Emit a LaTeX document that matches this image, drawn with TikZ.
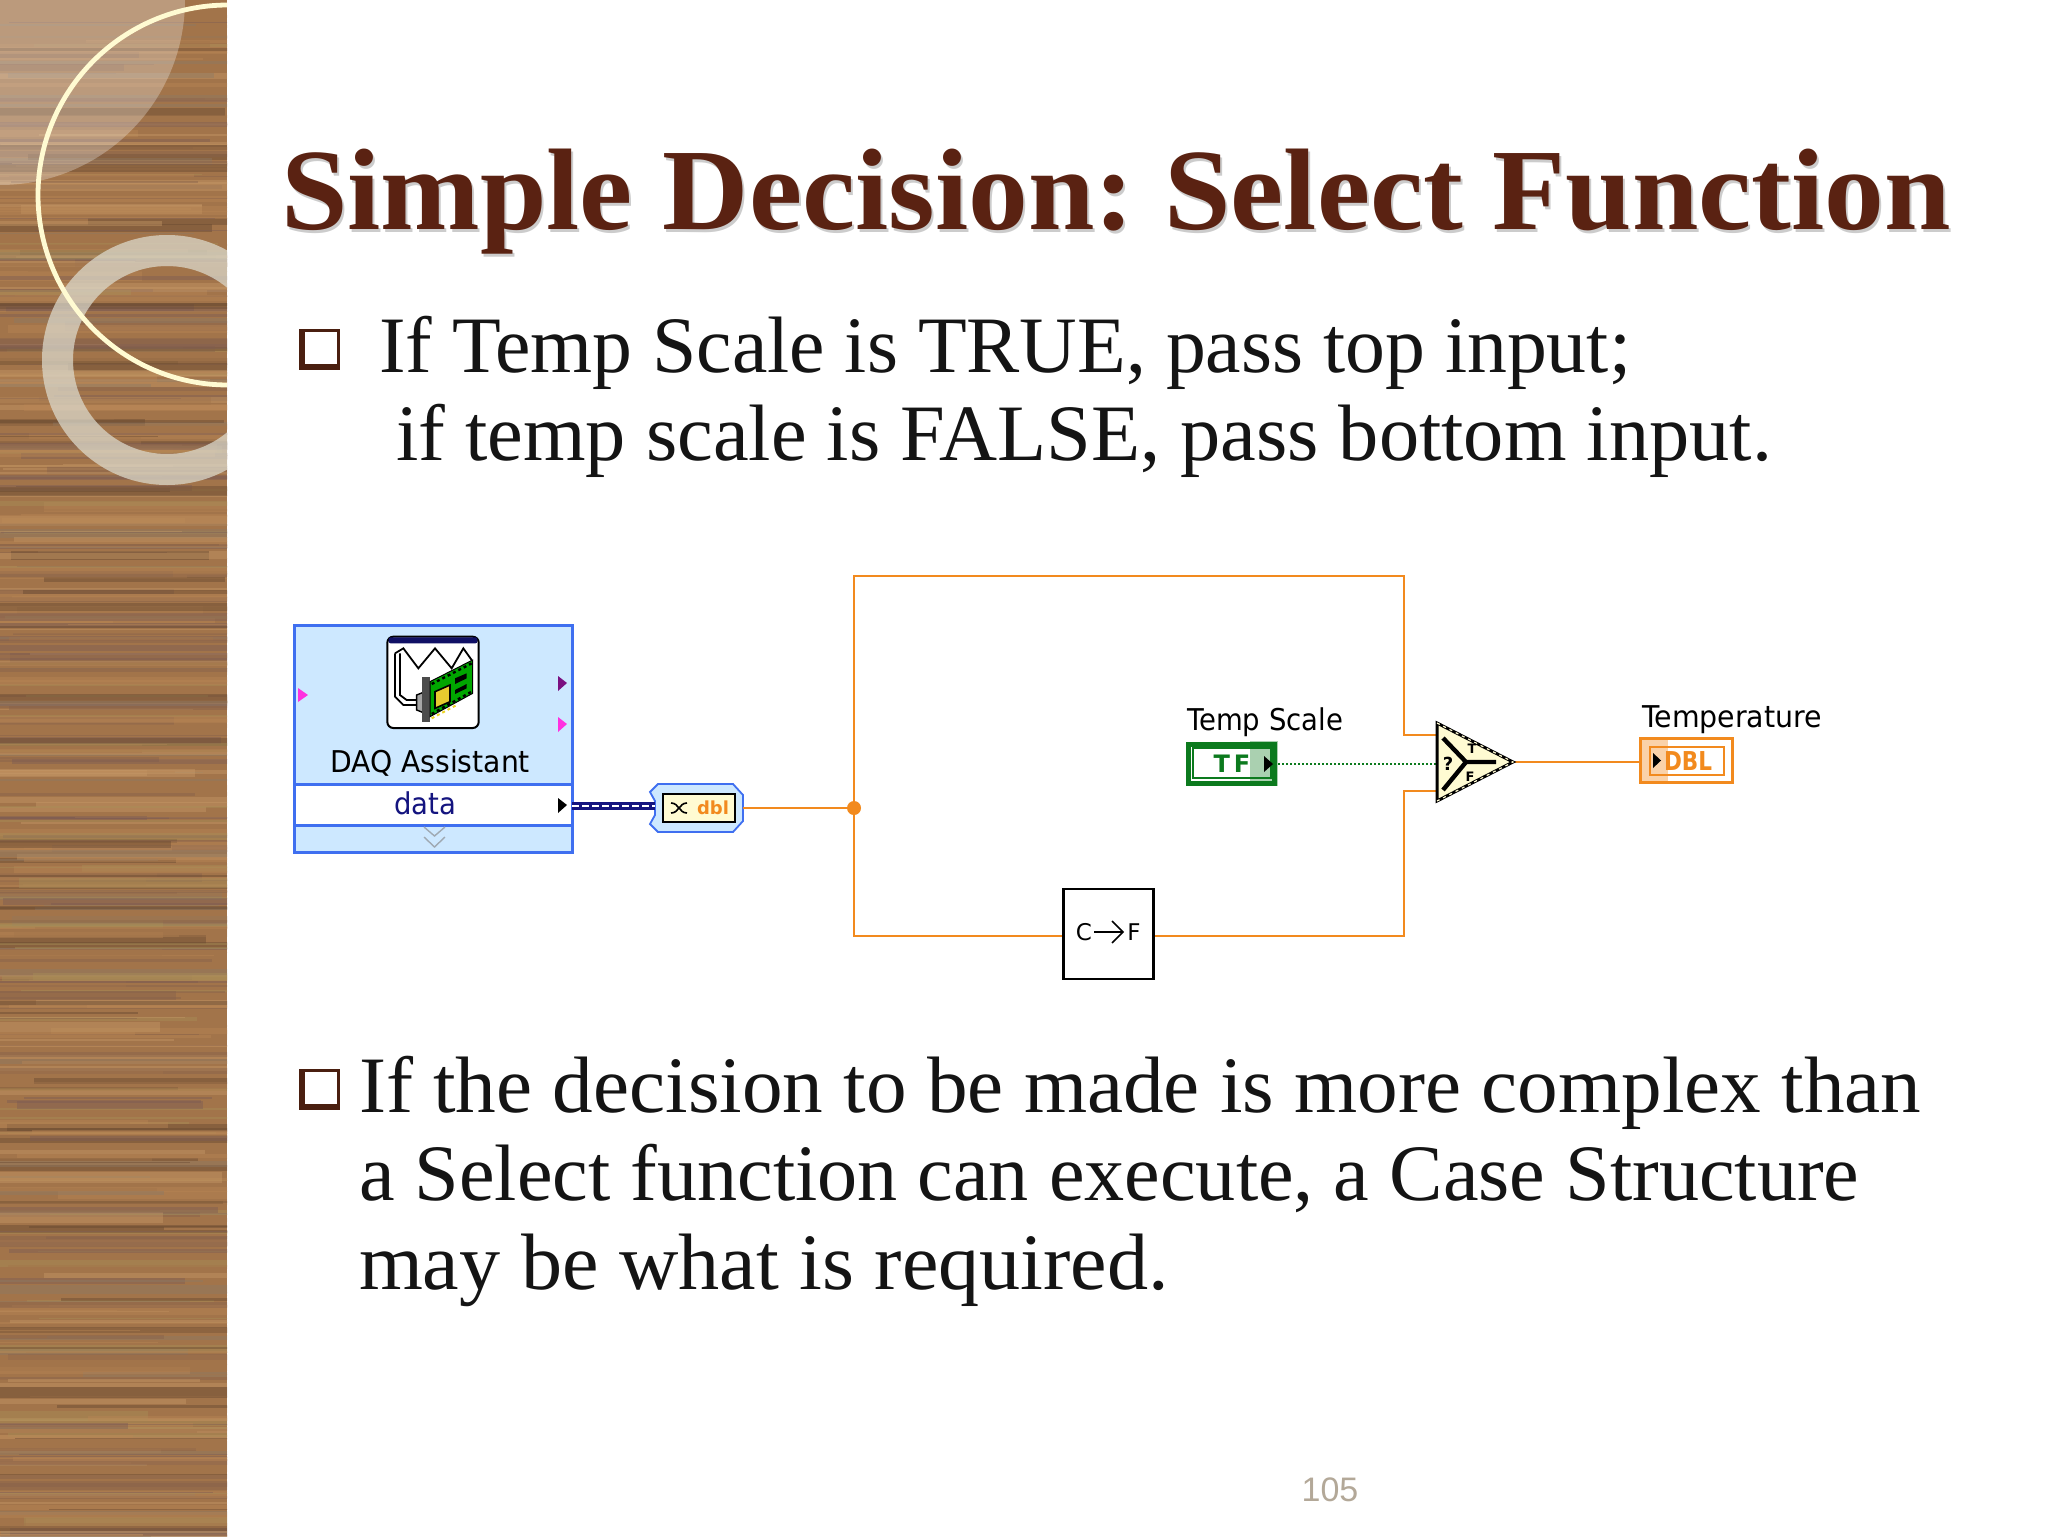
\documentclass[tikz,border=0pt]{standalone}
\usepackage{fontspec}
\usepackage{graphicx}
\setmainfont{Liberation Serif}
\newfontfamily\lv{DejaVu Sans}
\newfontfamily\pg{Liberation Sans}
\usetikzlibrary{calc}
\frenchspacing
\definecolor{titlec}{HTML}{5A2212}
\definecolor{bodyc}{HTML}{141414}
\definecolor{bul}{HTML}{4A1F10}
\definecolor{wire}{HTML}{F28A1E}
\definecolor{lvblue}{HTML}{3F6FF0}
\definecolor{lvpale}{HTML}{CDE8FF}
\definecolor{navy}{HTML}{14147F}
\definecolor{lvgreen}{HTML}{0C7A1E}
\definecolor{cream}{HTML}{FFFBD2}
\definecolor{lvmag}{HTML}{FF30E0}
\definecolor{lvpur}{HTML}{7A1080}
\definecolor{pagec}{HTML}{B3A898}
\definecolor{wa}{HTML}{B98655}
\definecolor{wb}{HTML}{85604A}
\definecolor{wc}{HTML}{A2744A}
\definecolor{wd}{HTML}{C79A68}
\definecolor{we}{HTML}{7A5A55}
\definecolor{wf}{HTML}{A89058}
\definecolor{wg}{HTML}{64462F}
\definecolor{wh}{HTML}{8C7A66}
\pgfmathdeclarerandomlist{woodc}{{wa}{wb}{wc}{wd}{we}{wf}{wg}{wh}{wa}{wc}}
\newcommand{\fitw}[2]{\resizebox{#1}{\height}{#2}}
\tikzset{
  txt/.style={anchor=base west,inner sep=0pt,outer sep=0pt},
  bodytxt/.style={txt,text=bodyc,font=\fontsize{40}{44}\selectfont},
  titletxt/.style={txt,font=\fontsize{58}{60}\selectfont\bfseries},
  lvtxt/.style={inner sep=0pt,outer sep=0pt,font=\lv\fontsize{15}{17}\selectfont},
  orangew/.style={wire,line width=1.25pt},
  bulletbox/.style={draw=bul,line width=1.2pt,fill=white,minimum size=17.5pt,inner sep=0pt},
}
\begin{document}
\begin{tikzpicture}[x=0.5pt,y=-0.5pt]
\useasboundingbox (0,0) rectangle (2048,1536);
\fill[white] (0,0) rectangle (2048,1536);

% wood panel
\begin{scope}
\clip (0,0) rectangle (227,1536);
\fill[wc] (0,0) rectangle (227,1536);
\pgfmathsetseed{4217}
\foreach \i in {1,...,620}{
  \pgfmathrandomitem{\cc}{woodc}
  \pgfmathsetmacro{\yy}{rnd*1536}
  \pgfmathsetmacro{\hh}{1+rnd*rnd*11}
  \pgfmathsetmacro{\xx}{-60+rnd*rnd*160}
  \pgfmathsetmacro{\ww}{170+rnd*240}
  \fill[\cc,opacity=.42] (\xx,\yy) rectangle ++(\ww,\hh);
}
% pale quarter
\fill[white,opacity=.28] (0,0) -- (185,0) arc[start angle=0,end angle=90,radius=185] -- cycle;
% ring
\fill[cream!55!gray!60!white,opacity=.72,even odd rule] (167,360) circle[radius=125] (167,360) circle[radius=94];
% thin circle
\draw[cream,line width=2.4pt] (228,195) circle[radius=190];
\end{scope}

% title
\node[titletxt,text=black,opacity=.2] (titleshadow) at (283,232) {\fitw{835pt}{Simple Decision: Select Function}};
\node[titletxt,text=titlec] (title) at (281,229) {\fitw{835pt}{Simple Decision: Select Function}};

% bullets
\node[bulletbox] (b1) at (321,348) {};
\draw[bul,line width=3pt] (b1.north west) -- (b1.south west) -- (b1.south east);
\node[bulletbox] (b2) at (321,1088) {};
\draw[bul,line width=3pt] (b2.north west) -- (b2.south west) -- (b2.south east);

% body
\node[bodytxt] (l1) at (379,372) {\fitw{626pt}{If Temp Scale is TRUE, pass top input;}};
\node[bodytxt] (l2) at (396,460) {\fitw{688pt}{if temp scale is FALSE, pass bottom input.}};
\node[bodytxt] (l3) at (359,1112) {\fitw{781pt}{If the decision to be made is more complex than}};
\node[bodytxt] (l4) at (359,1200) {\fitw{750pt}{a Select function can execute, a Case Structure}};
\node[bodytxt] (l5) at (359,1289) {\fitw{405pt}{may be what is required.}};
\node[anchor=center,inner sep=0pt,text=pagec,font=\pg\fontsize{17}{20}\selectfont] (pagenum) at (1330,1490) {105};

% DAQ block
\fill[lvpale] (294,625) rectangle (572,852);
\fill[white] (294,784) rectangle (572,825);
\draw[lvblue,line width=1.5pt] (294,625) rectangle (572,852);
\draw[lvblue,line width=1.5pt] (294,784) -- (572,784) (294,825) -- (572,825);
\fill[lvmag] (298,688) -- (308,695) -- (298,702) -- cycle;
\fill[lvpur] (558,676) -- (567,683) -- (558,691) -- cycle;
\fill[lvmag] (558,717) -- (567,724) -- (558,732) -- cycle;
\fill[black] (558,798) -- (567,805) -- (558,813) -- cycle;
\draw[gray!60!lvpale,line width=.7pt] (424,827) -- (434.5,836) -- (445,827) (424,837) -- (434.5,847) -- (445,837);
\node[lvtxt,text=black] (daqlabel) at (430,763) {\fitw{100pt}{DAQ Assistant}};
\node[lvtxt,text=navy] (datalabel) at (425,803) {\fitw{31pt}{data}};

% DAQ icon, zoom coordinates
\begin{scope}[shift={(280,610)},x=0.16667pt,y=-0.16667pt]
  \fill[white,rounded corners=3pt,draw=black,line width=1pt] (322,80) rectangle (596,354);
  \fill[navy!80!black,rounded corners=1pt] (326,82) rectangle (592,100);
  \draw[black,line width=.9pt] (345,130) -- (370,115) -- (415,175) -- (465,115) -- (515,175) -- (550,115) -- (575,150);
  \draw[black,line width=.9pt] (345,130) -- (345,260) -- (370,285) -- (410,285);
  \draw[black,line width=.9pt] (360,130) -- (360,255) -- (380,270) -- (410,270);
  \fill[gray!70,draw=black,line width=.7pt] (410,255) -- (435,245) -- (435,310) -- (410,300) -- cycle;
  \fill[gray!60!black] (425,200) rectangle (450,335);
  \fill[green!65!black,draw=black,line width=.5pt] (450,215) -- (578,150) -- (578,250) -- (450,320) -- cycle;
  \draw[black,line width=1.2pt,dash pattern=on 1.5pt off 1.5pt] (455,222) -- (575,160) (455,312) -- (575,245);
  \fill[yellow!60!brown,draw=black,line width=.8pt] (465,245) -- (510,225) -- (510,275) -- (465,295) -- cycle;
  \fill[black] (525,205) -- (560,190) -- (560,205) -- (525,222) -- cycle;
  \fill[black] (525,240) -- (560,222) -- (560,235) -- (525,252) -- cycle;
  \draw[yellow!70!brown,line width=1pt,dash pattern=on 1.5pt off 1.5pt] (455,325) -- (530,285);
\end{scope}

% conversion bullet
\fill[lvpale,draw=lvblue,line width=.9pt] (658,784) -- (733,784) -- (743,795) -- (743,821) -- (733,832) -- (658,832) -- (650,824) -- (655,815) -- (655,801) -- (650,792) -- cycle;
\node[fill=cream,draw=black,line width=1pt,minimum width=36pt,minimum height=14pt,inner sep=0pt] (conv) at (699,808) {};
\draw[black,line width=.8pt] (671,803) .. controls (679,803) and (679,813) .. (687,813) (671,813) .. controls (679,813) and (679,803) .. (687,803);
\node[inner sep=0pt,text=wire,font=\lv\bfseries\fontsize{9}{10}\selectfont] (dbl1) at (713,808) {dbl};

% wires
\coordinate (daqout) at (572,806);
\coordinate (convin) at (655,806);
\coordinate (convout) at (743,808);
\coordinate (junc) at (854,808);
\coordinate (cfin) at (1063,936);
\coordinate (cfout) at (1154,936);
\coordinate (seltop) at (1437,735);
\coordinate (selbot) at (1437,791);
\coordinate (selin) at (1437,764);
\coordinate (selout) at (1513,762);
\coordinate (dblin) at (1640,762);
\coordinate (tfout) at (1278,764);
\draw[navy,line width=3.8pt] (daqout) -- (convin);
\draw[white,line width=1.1pt,dash pattern=on 3.5pt off 1.5pt] (daqout) -- (convin);
\draw[orangew] (convout) -- (junc);
\draw[orangew] (cfin) -| (junc) |- (1404,576) -- (1404,735) -- (seltop);
\draw[orangew] (cfout) -- (1404,936) -- (1404,791) -- (selbot);
\draw[orangew] (selout) -- (dblin);
\fill[wire] (junc) circle[radius=7];
\draw[lvgreen,line width=1.3pt,dash pattern=on 1pt off 1pt] (tfout) -- (selin);

% C->F
\node[draw=black,fill=white,line width=1.2pt,minimum width=45pt,minimum height=45pt,inner sep=0pt] (cf) at (1108.5,934) {};
\node[lvtxt,text=black,font=\lv\fontsize{11.5}{12}\selectfont] (clab) at (1084,932) {C};
\node[lvtxt,text=black,font=\lv\fontsize{11.5}{12}\selectfont] (flab) at (1134,932) {F};
\draw[black,line width=.8pt] (1094,932) -- (1123,932);
\draw[black,line width=.8pt] (1112,921) -- (1123,932) -- (1112,943);

% Temp Scale
\node[lvtxt,text=black,anchor=base west] (tslab) at (1187,730) {\fitw{78pt}{Temp Scale}};
\node[draw=lvgreen,line width=2.5pt,fill=white,minimum width=43pt,minimum height=19.5pt,inner sep=0pt] (tf) at (1231.5,763.5) {};
\draw[lvgreen,line width=1pt] (1193,748) rectangle (1271,778);
\node[inner sep=0pt,text=lvgreen,font=\lv\bfseries\fontsize{12}{14}\selectfont] (tflab) at (1232,764) {T\,F};
\fill[lvgreen,opacity=.35] (1250,741) rectangle (1278,786);
\fill[black] (1264,756) -- (1273,764) -- (1264,772) -- cycle;

% Select
\draw[black,line width=1.5pt,fill=cream] (1437,723) -- (1513,762) -- (1437,801) -- cycle;
\draw[cream,line width=.6pt,dash pattern=on 1.5pt off 2pt] (1437,723) -- (1513,762) -- (1437,801);
\draw[black,line width=2.2pt] (1443,738) -- (1466,762) -- (1443,790) (1466,762) -- (1496,762);
\node[inner sep=0pt,font=\lv\bfseries\fontsize{9}{9}\selectfont] (selq) at (1448,764) {?};
\node[inner sep=0pt,font=\lv\bfseries\fontsize{6.5}{7}\selectfont] (selt) at (1472,749) {T};
\node[inner sep=0pt,font=\lv\bfseries\fontsize{6.5}{7}\selectfont] (self) at (1470,777) {F};

% Temperature
\node[lvtxt,text=black,anchor=base west] (templab) at (1642,727) {\fitw{90pt}{Temperature}};
\node[draw=wire,line width=1.3pt,fill=white,minimum width=46pt,minimum height=22pt,inner sep=0pt] (dblbox) at (1686.5,760.5) {};
\draw[wire,line width=1pt] (1650,747) rectangle (1724,775);
\fill[wire,opacity=.38] (1641,739) rectangle (1668,782);
\fill[black] (1653,753) -- (1661,760.5) -- (1653,768) -- cycle;
\node[inner sep=0pt,text=wire,font=\lv\bfseries\fontsize{13}{14}\selectfont] (dbllab) at (1688,761) {\fitw{24pt}{DBL}};
\end{tikzpicture}
\end{document}
